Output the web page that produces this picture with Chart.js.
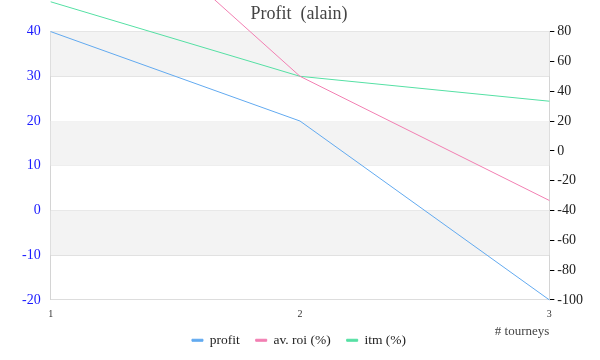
<!DOCTYPE html>
<html>
<head>
<meta charset="utf-8">
<script src="https://cdn.jsdelivr.net/npm/chart.js@4"></script>
<style>
  body { margin: 0; background: #fff; }
  #wrap { width: 600px; height: 360px; }
</style>
</head>
<body>
<div id="wrap"><canvas id="grafico"></canvas></div>
<script>
// dados
const tourneys = ['1', '2', '3'];
const profit = [40, 20, -20];
const avRoi = [200, 50, -33.3];
const itm = [100, 50, 33.3];

// faixas cinzentas alternadas no eixo da esquerda
const bandas = {
    id: 'bandas',
    beforeDatasetsDraw(chart) {
        const ctx = chart.ctx;
        const area = chart.chartArea;
        const y = chart.scales.y;
        ctx.save();
        ctx.fillStyle = '#f3f3f3';
        for (let v = 40; v > -20; v -= 20) {
            const top = y.getPixelForValue(v);
            const bot = y.getPixelForValue(v - 10);
            ctx.fillRect(area.left, top, area.right - area.left, bot - top);
        }
        ctx.restore();
    }
};

const serif = "'Liberation Serif', 'DejaVu Serif', serif";

new Chart(document.getElementById('grafico').getContext('2d'), {
    type: 'line',
    data: {
        labels: tourneys,
        datasets: [{
            label: 'profit',
            data: profit,
            yAxisID: 'y',
            borderColor: '#62aaf0',
            backgroundColor: '#62aaf0',
            borderWidth: 1,
            pointRadius: 0,
            clip: false
        }, {
            label: 'av. roi (%)',
            data: avRoi,
            yAxisID: 'y1',
            borderColor: '#f27fb2',
            backgroundColor: '#f27fb2',
            borderWidth: 1,
            pointRadius: 0,
            clip: false
        }, {
            label: 'itm (%)',
            data: itm,
            yAxisID: 'y1',
            borderColor: '#55e0a4',
            backgroundColor: '#55e0a4',
            borderWidth: 1,
            pointRadius: 0,
            clip: false
        }]
    },
    options: {
        responsive: true,
        maintainAspectRatio: false,
        animation: false,
        layout: { padding: { left: 12, right: 14, top: 0, bottom: 3 } },
        plugins: {
            title: {
                display: true,
                text: 'Profit  (alain)',
                color: '#444',
                font: { family: serif, size: 18, weight: 'normal' },
                padding: { top: 3, bottom: 7 }
            },
            legend: {
                position: 'bottom',
                labels: {
                    color: '#222',
                    font: { family: serif, size: 13.5 },
                    boxWidth: 11,
                    boxHeight: 2,
                    padding: 16
                }
            },
            tooltip: { enabled: false }
        },
        scales: {
            x: {
                offset: false,
                grid: { display: false },
                border: { display: false },
                ticks: {
                    color: '#333',
                    font: { family: serif, size: 10 },
                    maxRotation: 0,
                    padding: 0
                },
                title: {
                    display: true,
                    text: '# tourneys',
                    align: 'end',
                    color: '#444',
                    font: { family: serif, size: 13 },
                    padding: { top: 4, bottom: -22 }
                }
            },
            y: {
                position: 'left',
                min: -20,
                max: 40,
                grid: { color: '#dddddd', drawTicks: false },
                border: { color: '#d4d4d4' },
                ticks: {
                    stepSize: 10,
                    color: '#1a1aff',
                    font: { family: serif, size: 14 },
                    padding: 10
                }
            },
            y1: {
                position: 'right',
                min: -100,
                max: 80,
                grid: { drawOnChartArea: false, tickLength: 5, tickColor: '#000' },
                border: { color: '#d4d4d4' },
                ticks: {
                    stepSize: 10,
                    color: '#222',
                    font: { family: serif, size: 14 },
                    padding: 3,
                    callback: value => (value % 20 === 0 ? value : '')
                }
            }
        }
    },
    plugins: [bandas]
});
</script>
</body>
</html>
